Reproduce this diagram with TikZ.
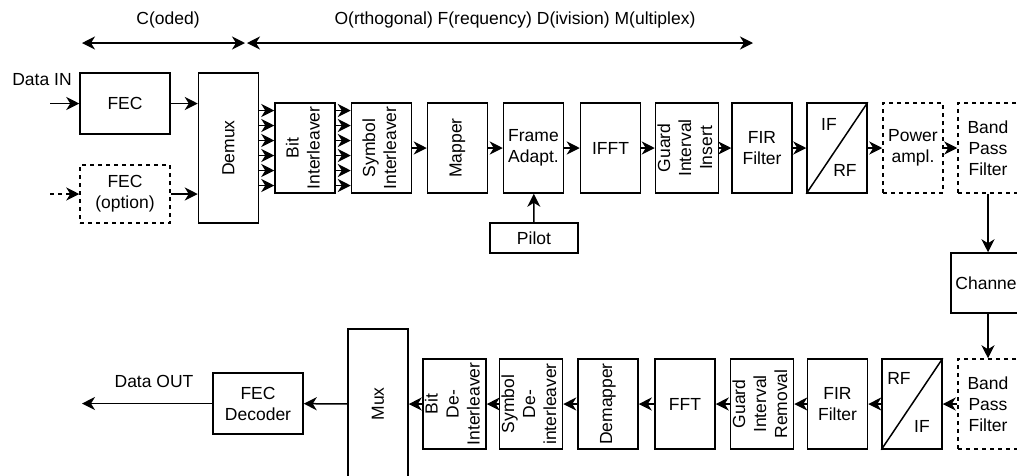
\documentclass[tikz,border=0pt]{standalone}
\usepackage{fontspec}
\setmainfont{Liberation Sans}
\usetikzlibrary{arrows.meta}
\tikzset{
  lw/.style={line width=1.5pt},
  box/.style={draw, lw, inner sep=0pt, align=center, minimum width=60pt, minimum height=90pt, font=\fs},
  dbox/.style={box, dash pattern=on 4pt off 4pt},
  arr/.style={lw, -{Stealth[length=13pt,width=13pt,inset=4pt]}},
  darr/.style={arr, dash pattern=on 4pt off 4pt},
  barr/.style={lw, {Stealth[length=13pt,width=13pt,inset=4pt]}-{Stealth[length=13pt,width=13pt,inset=4pt]}},
  lbl/.style={inner sep=0pt, align=center, font=\fs},
}
\newcommand{\fs}{\fontsize{17.5pt}{21pt}\selectfont}
\begin{document}
\begin{tikzpicture}[x=1pt,y=-1pt]
\useasboundingbox (0,0) rectangle (1017,475);
% top labels
\node[lbl] (tc) at (168,20) {C(oded)};
\node[lbl] (tofdm) at (515,20) {O(rthogonal) F(requency) D(ivision) M(ultiplex)};
\coordinate (c1) at (82,43);
\coordinate (c2) at (245,43);
\coordinate (c3) at (247,43);
\coordinate (c4) at (753,43);
\draw[barr] (c1) -- (c2);
\draw[barr] (c3) -- (c4);
% transmitter
\node[box, minimum width=90pt, minimum height=61pt] (fec) at (125,103.5) {FEC};
\node[dbox, minimum width=90pt, minimum height=58pt] (fecopt) at (125,194) {FEC\\(option)};
\node[box, minimum height=150pt] (demux) at (228.5,148) {\rotatebox{90}{Demux}};
\node[box] (bit) at (305,148) {\rotatebox{90}{\begin{tabular}{@{}c@{}}Bit\\Interleaver\end{tabular}}};
\node[box] (sym) at (381.5,148) {\rotatebox{90}{\begin{tabular}{@{}c@{}}Symbol\\Interleaver\end{tabular}}};
\node[box] (mapper) at (457.5,148) {\rotatebox{90}{Mapper}};
\node[box] (frame) at (533.5,148) {Frame\\Adapt.};
\node[box] (ifft) at (610.5,148) {IFFT};
\node[box] (guard) at (687,148) {\rotatebox{90}{\begin{tabular}{@{}c@{}}Guard\\Interval\\Insert\end{tabular}}};
\node[box] (fir) at (762,148) {FIR\\Filter};
\node[box] (ifrf) at (837,148) {};
\node[dbox] (power) at (913,148) {Power\\ampl.};
\node[dbox] (bpf) at (988,148) {Band\\Pass\\Filter};
\node[box, minimum width=88pt, minimum height=30pt] (pilot) at (534,238) {Pilot};
\draw[lw] (ifrf.south west) -- (ifrf.north east);
\node[lbl] (ifa) at (829,124) {IF};
\node[lbl] (rfa) at (845,170) {RF};
% inputs
\coordinate (din) at (50,103.5);
\coordinate (dinopt) at (50,194);
\node[lbl] (datain) at (42,80) {Data IN};
\draw[arr] (din) -- (fec);
\draw[darr] (dinopt) -- (fecopt);
\draw[arr] (fec.east) -- (fec.east -| demux.west);
\draw[arr] (fecopt.east) -- (fecopt.east -| demux.west);
\foreach \d in {37.5,22.5,7.5,-7.5,-22.5,-37.5}{
  \draw[arr] ([yshift=\d pt]demux.east) -- ([yshift=\d pt]bit.west);
  \draw[arr] ([yshift=\d pt]bit.east) -- ([yshift=\d pt]sym.west);
}
\draw[arr] (sym) -- (mapper);
\draw[arr] (mapper) -- (frame);
\draw[arr] (frame) -- (ifft);
\draw[arr] (ifft) -- (guard);
\draw[arr] (guard) -- (fir);
\draw[arr] (fir) -- (ifrf);
\draw[arr] (ifrf) -- (power);
\draw[arr] (power) -- (bpf);
\draw[arr] (pilot) -- (frame);
% channel
\node[box, minimum width=74pt, minimum height=60pt] (channel) at (988,283) {Channel};
\draw[arr] (bpf) -- (channel);
% receiver
\node[dbox] (bpf2) at (988,404) {Band\\Pass\\Filter};
\node[box] (rfif) at (912,404) {};
\draw[lw] (rfif.south west) -- (rfif.north east);
\node[lbl] (rfb) at (899,378) {RF};
\node[lbl] (ifb) at (922,426) {IF};
\node[box] (fir2) at (837.5,404) {FIR\\Filter};
\node[box] (guardr) at (762,404) {\rotatebox{90}{\begin{tabular}{@{}c@{}}Guard\\Interval\\Removal\end{tabular}}};
\node[box] (fft) at (685,404) {FFT};
\node[box] (demap) at (608,404) {\rotatebox{90}{Demapper}};
\node[box] (symde) at (531,404) {\rotatebox{90}{\begin{tabular}{@{}c@{}}Symbol\\De-\\interleaver\end{tabular}}};
\node[box] (bitde) at (454.5,404) {\rotatebox{90}{\begin{tabular}{@{}c@{}}Bit\\De-\\Interleaver\end{tabular}}};
\node[box, minimum height=150pt] (mux) at (378,404) {\rotatebox{90}{Mux}};
\node[box, minimum width=90pt, minimum height=61pt] (fecdec) at (258,403.5) {FEC\\Decoder};
\coordinate (dout) at (82,403.5);
\node[lbl] (dataout) at (154,381) {Data OUT};
\draw[arr] (channel) -- (bpf2);
\draw[arr] (bpf2) -- (rfif);
\draw[arr] (rfif) -- (fir2);
\draw[arr] (fir2) -- (guardr);
\draw[arr] (guardr) -- (fft);
\draw[arr] (fft) -- (demap);
\draw[arr] (demap) -- (symde);
\draw[arr] (symde) -- (bitde);
\draw[arr] (bitde) -- (mux);
\draw[arr] (mux) -- (fecdec);
\draw[arr] (fecdec) -- (dout);
\end{tikzpicture}
\end{document}
